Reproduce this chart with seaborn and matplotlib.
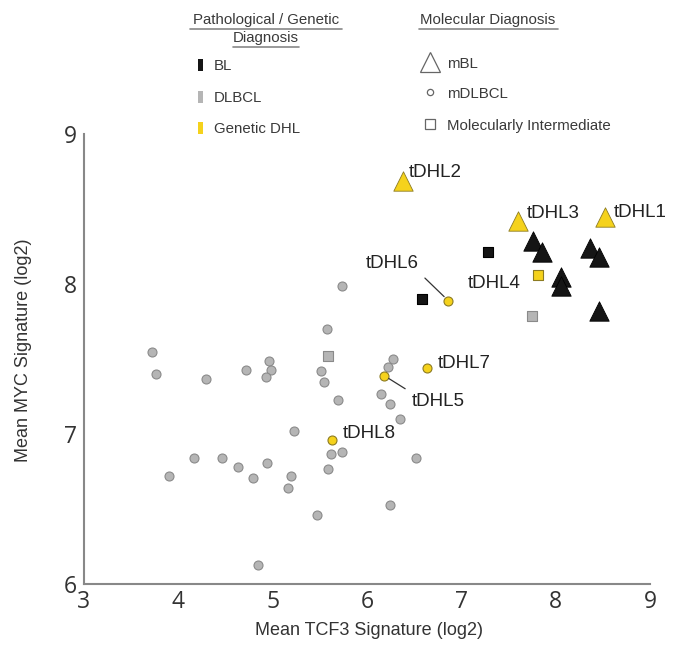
import matplotlib
matplotlib.use("Agg")
import matplotlib.pyplot as plt
import seaborn as sns
import pandas as pd
from matplotlib.lines import Line2D
from matplotlib.patches import Rectangle

# ---------------- data ----------------
tcf3 = [3.72, 3.76, 4.29, 4.72, 4.96, 4.98, 4.93, 5.23, 4.17, 4.46, 4.63, 4.94,
        3.90, 4.79, 5.19, 5.16, 5.47, 5.59, 5.62, 5.74, 6.52, 6.24, 4.84, 5.73,
        5.58, 5.51, 5.54, 5.69, 6.28, 6.22, 6.15, 6.24, 6.35,
        5.59, 7.75,
        6.58, 7.28,
        7.81,
        7.76, 7.85, 8.36, 8.46, 8.06, 8.06, 8.46,
        6.38, 7.60, 8.52,
        6.86, 6.64, 6.18, 5.63]
myc = [7.55, 7.40, 7.37, 7.43, 7.49, 7.43, 7.38, 7.02, 6.84, 6.84, 6.78, 6.81,
       6.72, 6.71, 6.72, 6.64, 6.46, 6.77, 6.87, 6.88, 6.84, 6.53, 6.13, 7.99,
       7.70, 7.42, 7.35, 7.23, 7.50, 7.45, 7.27, 7.20, 7.10,
       7.52, 7.79,
       7.90, 8.21,
       8.06,
       8.29, 8.21, 8.24, 8.18, 8.05, 7.99, 7.82,
       8.69, 8.42, 8.45,
       7.89, 7.44, 7.39, 6.96]
path_dx = (["DLBCL"] * 33 + ["DLBCL"] * 2 + ["BL"] * 2 + ["Genetic DHL"] +
           ["BL"] * 7 + ["Genetic DHL"] * 3 + ["Genetic DHL"] * 4)
mol_dx = (["mDLBCL"] * 33 + ["Intermediate"] * 2 + ["Intermediate"] * 2 +
          ["Intermediate"] + ["mBL"] * 7 + ["mBL"] * 3 + ["mDLBCL"] * 4)
labels = ([""] * 37 + ["tDHL4"] + [""] * 7 + ["tDHL2", "tDHL3", "tDHL1"] +
          ["tDHL6", "tDHL7", "tDHL5", "tDHL8"])

x_ticks = [3, 4, 5, 6, 7, 8, 9]
y_ticks = [6, 7, 8, 9]
x_title = "Mean TCF3 Signature (log2)"
y_title = "Mean MYC Signature (log2)"

df = pd.DataFrame({"tcf3": tcf3, "myc": myc, "path": path_dx,
                   "mol": mol_dx, "label": labels})

# ---------------- styles ----------------
fill = {"BL": "#151515", "DLBCL": "#b5b5b5", "Genetic DHL": "#f5d21c"}
edge = {"BL": "#000000", "DLBCL": "#8a8a8a", "Genetic DHL": "#8c7b22"}
marker = {"mBL": "^", "mDLBCL": "o", "Intermediate": "s"}
msize = {"mBL": 195, "mDLBCL": 42, "Intermediate": 62}
order = [("DLBCL", "mDLBCL"), ("DLBCL", "Intermediate"), ("BL", "Intermediate"),
         ("Genetic DHL", "Intermediate"), ("BL", "mBL"), ("Genetic DHL", "mBL"),
         ("Genetic DHL", "mDLBCL")]

# label offsets in pixels (dx, dy, ha, leader?)
label_style = {
    "tDHL1": (9, 4, "left", None),
    "tDHL2": (6, 8, "left", None),
    "tDHL3": (9, 8, "left", None),
    "tDHL4": (-17, -9, "right", None),
    "tDHL5": (28, -26, "left", (0.0, 1.0)),
    "tDHL6": (-56, 37, "center", (1.0, 0.0)),
    "tDHL7": (10, 5, "left", None),
    "tDHL8": (11, 7, "left", None),
}

sns.set_style("white")
plt.rcParams["font.family"] = ["Liberation Sans", "DejaVu Sans"]

W, H = 675, 646
fig = plt.figure(figsize=(W / 100, H / 100), dpi=100)
ax = fig.add_axes([84 / W, 1 - 584 / H, 566 / W, 450 / H])

for i, (p, m) in enumerate(order):
    sub = df[(df["path"] == p) & (df["mol"] == m)]
    if sub.empty:
        continue
    lw = 0.8 if m != "mBL" else 0.6
    sns.scatterplot(data=sub, x="tcf3", y="myc", marker=marker[m], s=msize[m],
                    color=fill[p], edgecolor=edge[p], linewidth=lw, ax=ax,
                    legend=False, zorder=3 + i)

for _, r in df[df["label"] != ""].iterrows():
    dx, dy, ha, rel = label_style[r["label"]]
    kw = {}
    if rel is not None:
        kw["arrowprops"] = dict(arrowstyle="-", color="#333333", lw=0.9,
                                relpos=rel, shrinkA=3, shrinkB=4)
    ax.annotate(r["label"], xy=(r["tcf3"], r["myc"]), xytext=(dx, dy),
                textcoords="offset pixels", ha=ha, va="center",
                fontsize=13.5, color="#222222", zorder=20, **kw)

ax.set_xlim(3, 9)
ax.set_ylim(6, 9)
ax.set_xticks(x_ticks)
ax.set_yticks(y_ticks)
ax.set_xticklabels([str(t) for t in x_ticks], family="Open Sans", fontsize=16.5, color="#333333")
ax.set_yticklabels([str(t) for t in y_ticks], family="Open Sans", fontsize=16.5, color="#333333")
ax.tick_params(axis="both", direction="in", length=6, width=1.1, color="#666666")
ax.tick_params(axis="x", pad=4)
ax.tick_params(axis="y", pad=5)
for s in ["top", "right"]:
    ax.spines[s].set_visible(False)
for s in ["left", "bottom"]:
    ax.spines[s].set_color("#888888")
    ax.spines[s].set_linewidth(1.5)
ax.set_xlabel(x_title, fontsize=13, color="#333333")
ax.set_ylabel(y_title, fontsize=13, color="#333333")
ax.xaxis.set_label_coords(0.503, -0.085)
ax.yaxis.set_label_coords(-0.092, 0.52)

# ---------------- legend (figure pixels) ----------------
def fx(px):
    return px / W

def fy(py):
    return 1 - py / H

tcol = "#3a3a3a"
lfs = 10.8
fig.text(fx(266), fy(20), "Pathological / Genetic", ha="center", va="center", fontsize=lfs, color=tcol)
fig.text(fx(266), fy(38), "Diagnosis", ha="center", va="center", fontsize=lfs, color=tcol)
fig.text(fx(488), fy(20), "Molecular Diagnosis", ha="center", va="center", fontsize=lfs, color=tcol)
for (x0, x1, y) in [(190, 342, 29), (233, 299, 47), (419, 558, 29)]:
    fig.add_artist(Line2D([fx(x0), fx(x1)], [fy(y), fy(y)], color="#888888", lw=1.2))

for name, yy in [("BL", 65), ("DLBCL", 97), ("Genetic DHL", 128)]:
    fig.add_artist(Rectangle((fx(198), fy(yy + 6)), 5 / W, 12 / H,
                             facecolor=fill[name], edgecolor="none"))
    fig.text(fx(214), fy(yy + 1), name, ha="left", va="center", fontsize=lfs, color=tcol)

for name, txt, yy, ms in [("mBL", "mBL", 62, 14), ("mDLBCL", "mDLBCL", 92, 4.5),
                           ("Intermediate", "Molecularly Intermediate", 124, 7.5)]:
    fig.add_artist(Line2D([fx(430)], [fy(yy)], marker=marker[name], markersize=ms,
                          markerfacecolor="white", markeredgecolor="#666666",
                          markeredgewidth=0.9, linestyle="none"))
    fig.text(fx(447), fy(yy + 2), txt, ha="left", va="center", fontsize=lfs, color=tcol)

fig.savefig("out.png", dpi=100)
